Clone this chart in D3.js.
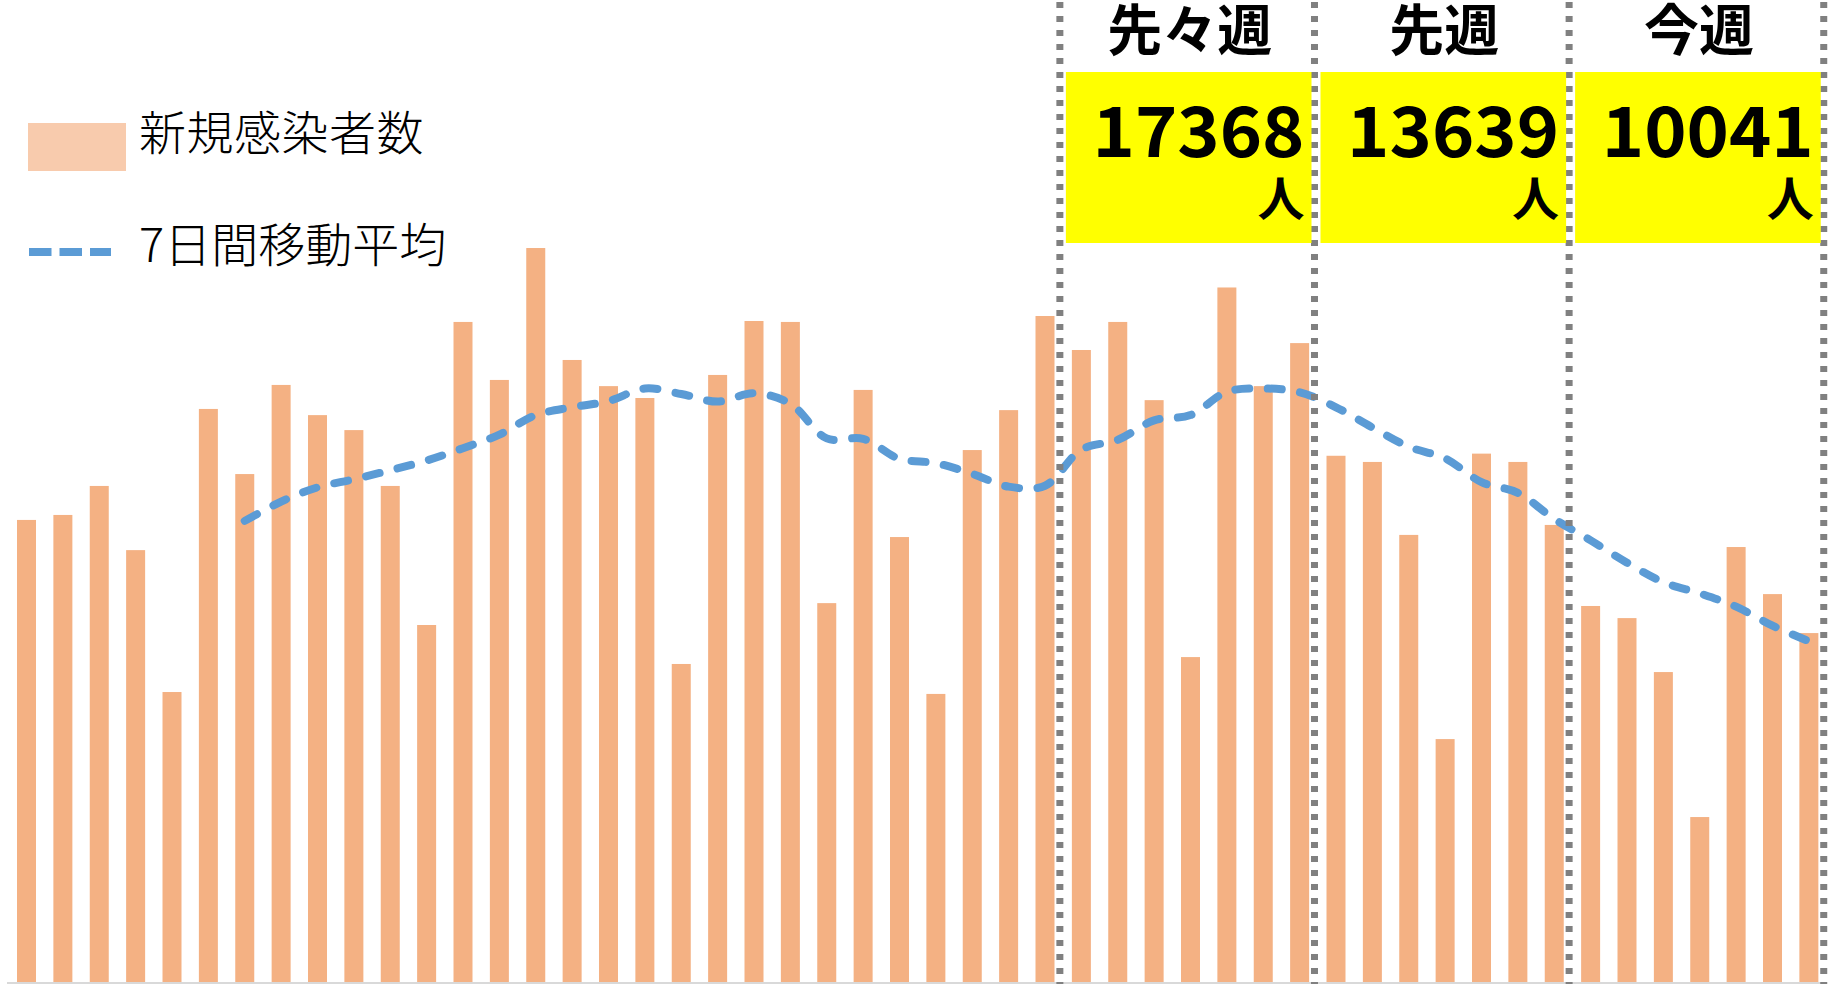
<!DOCTYPE html>
<html>
<head>
<meta charset="utf-8">
<script src="https://cdn.jsdelivr.net/npm/d3@7"></script>
<style>
  body { margin: 0; background: #fff; }
  svg { display: block; font-family: 'Noto Sans CJK JP', 'Noto Sans', sans-serif; }
</style>
</head>
<body>
<div id="chart"></div>
<script>
// daily new cases, 50 days
const days = d3.range(50)
const newCases = [
  1944, 1965, 2087, 1817, 1220, 2411, 2137, 2512, 2385, 2322,
  2087, 1502, 2777, 2533, 3088, 2617, 2507, 2457, 1338, 2554,
  2781, 2777, 1594, 2491, 1872, 1212, 2238, 2406, 2802, 2659,
  2777, 2448, 1367, 2922, 2507, 2688, 2214, 2188, 1881, 1022,
  2223, 2188, 1923, 1582, 1531, 1304, 694, 1830, 1632, 1468
]
// 7-day moving average (first 6 days have none)
const movingAvg = [
  null, null, null, null, null, null,
  1940, 2021, 2081, 2115, 2153, 2194, 2246, 2303, 2385, 2418,
  2444, 2497, 2474, 2442, 2477, 2433, 2287, 2285, 2201, 2183,
  2138, 2084, 2088, 2240, 2281, 2363, 2385, 2483, 2497, 2481,
  2418, 2333, 2252, 2203, 2103, 2058, 1948, 1858, 1764, 1682,
  1635, 1579, 1499, 1434
]
const weekLabels = ['先々週', '先週', '今週']
const weekTotals = [17368, 13639, 10041]
const weekStarts = [29, 36, 43, 50]

const width = 1836
const height = 984

const svg = d3
  .select('#chart')
  .append('svg')
  .attr('width', width)
  .attr('height', height)

const xScale = d3
  .scaleBand()
  .domain(d3.range(51))
  .range([7, 1864.75])
  .paddingInner(0.4777)
  .paddingOuter(0.275)

const step = xScale.step()

const yScale = d3.scaleLinear().domain([0, 3500]).range([982, 150.1])

// x axis line
svg
  .append('line')
  .attr('x1', 7)
  .attr('x2', 1826)
  .attr('y1', 983)
  .attr('y2', 983)
  .attr('stroke', '#d9d9d9')
  .attr('stroke-width', 2)

svg
  .selectAll('.bar')
  .data(days)
  .enter()
  .append('rect')
  .attr('class', 'bar')
  .attr('x', d => xScale(d))
  .attr('width', xScale.bandwidth())
  .attr('y', d => yScale(newCases[d]))
  .attr('height', d => yScale(0) - yScale(newCases[d]))
  .attr('fill', '#f4b183')

const line = d3
  .line()
  .defined(d => movingAvg[d] !== null)
  .x(d => xScale(d) + xScale.bandwidth() / 2)
  .y(d => yScale(movingAvg[d]))
  .curve(d3.curveCatmullRom)

svg
  .append('path')
  .datum(days)
  .attr('d', line)
  .attr('fill', 'none')
  .attr('stroke', '#5b9bd5')
  .attr('stroke-width', 8)
  .attr('stroke-linecap', 'round')
  .attr('stroke-dasharray', '14,18.5')

// week dividers
const dividerX = weekStarts.map(i => xScale(i) - step * 0.33)

svg
  .selectAll('.divider')
  .data(dividerX)
  .enter()
  .append('line')
  .attr('class', 'divider')
  .attr('x1', d => d)
  .attr('x2', d => d)
  .attr('y1', 2)
  .attr('y2', height)
  .attr('stroke', '#808080')
  .attr('stroke-width', 7)
  .attr('stroke-dasharray', '6,8')

// weekly boxes
svg
  .selectAll('.week')
  .data(weekLabels)
  .enter()
  .append('g')
  .attr('class', 'week')
  .each(function(d, i) {
    const g = d3.select(this)
    const x0 = dividerX[i] + 6
    const x1 = dividerX[i + 1] - 3

    g.append('rect')
      .attr('x', x0)
      .attr('y', 72)
      .attr('width', x1 - x0)
      .attr('height', 171)
      .attr('fill', '#ffff00')

    g.append('text')
      .text(d)
      .attr('x', (x0 + x1) / 2 + 1)
      .attr('y', 50)
      .attr('text-anchor', 'middle')
      .style('font-size', '55px')
      .style('font-weight', 700)

    g.append('text')
      .text(weekTotals[i])
      .attr('x', x1 - 7)
      .attr('y', 156.5)
      .attr('text-anchor', 'end')
      .attr('textLength', 212)
      .attr('lengthAdjust', 'spacingAndGlyphs')
      .style('font-size', '70px')
      .style('font-weight', 700)

    g.append('text')
      .text('人')
      .attr('x', x1 - 7)
      .attr('y', 216)
      .attr('text-anchor', 'end')
      .style('font-size', '47px')
      .style('font-weight', 700)
  })

// legend
svg
  .append('rect')
  .attr('x', 28)
  .attr('y', 123)
  .attr('width', 98)
  .attr('height', 48)
  .attr('fill', '#f8cbad')

svg
  .append('text')
  .text('新規感染者数')
  .attr('x', 139)
  .attr('y', 150)
  .style('font-size', '47px')
  .style('font-weight', 300)
  .style('letter-spacing', '0.5px')

svg
  .append('line')
  .attr('x1', 29)
  .attr('x2', 111)
  .attr('y1', 252)
  .attr('y2', 252)
  .attr('stroke', '#5b9bd5')
  .attr('stroke-width', 8)
  .attr('stroke-dasharray', '22.5,8')

svg
  .append('text')
  .text('7日間移動平均')
  .attr('x', 139)
  .attr('y', 262)
  .style('font-size', '47px')
  .style('font-weight', 300)
</script>
</body>
</html>
